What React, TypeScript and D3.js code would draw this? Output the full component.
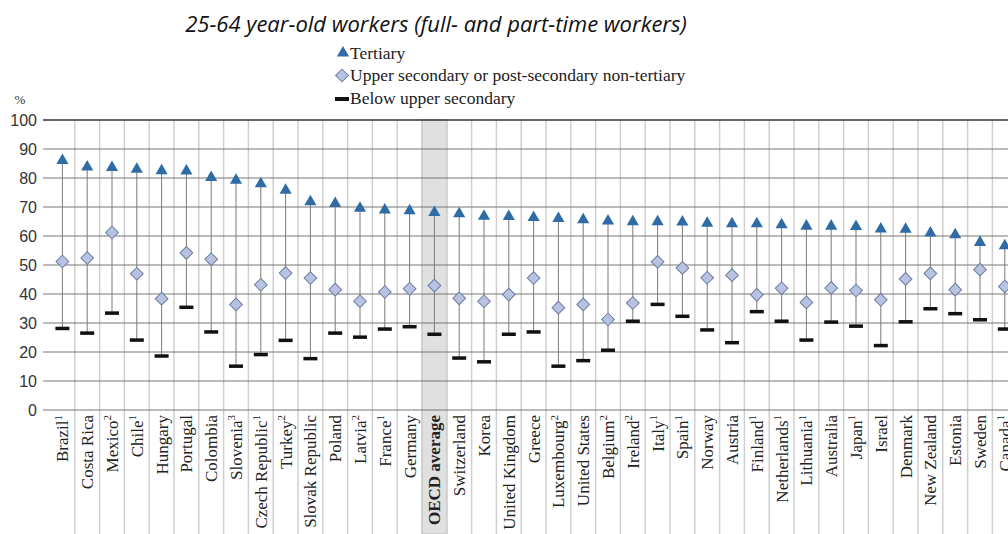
import * as d3 from 'd3';

// Countries in chart order (sorted by tertiary rate)
const countries = [
  'Brazil', 'Costa Rica', 'Mexico', 'Chile', 'Hungary', 'Portugal', 'Colombia',
  'Slovenia', 'Czech Republic', 'Turkey', 'Slovak Republic', 'Poland', 'Latvia',
  'France', 'Germany', 'OECD average', 'Switzerland', 'Korea', 'United Kingdom',
  'Greece', 'Luxembourg', 'United States', 'Belgium', 'Ireland', 'Italy', 'Spain',
  'Norway', 'Austria', 'Finland', 'Netherlands', 'Lithuania', 'Australia', 'Japan',
  'Israel', 'Denmark', 'New Zealand', 'Estonia', 'Sweden', 'Canada',
];

// Footnote markers shown as superscripts
const notes = [
  '1', '', '2', '1', '', '', '', '3', '1', '2', '', '', '2', '1', '', '', '', '',
  '', '', '2', '', '2', '2', '1', '1', '', '', '1', '1', '1', '', '1', '', '', '',
  '', '', '1',
];

const tertiary = [
  86, 83.8, 83.6, 83, 82.5, 82.4, 80.2, 79.2, 78, 75.8, 71.8, 71.2, 69.6, 69,
  68.7, 68.1, 67.7, 66.8, 66.7, 66.4, 66, 65.6, 65.2, 64.9, 64.9, 64.8, 64.4,
  64.2, 64.2, 63.9, 63.4, 63.4, 63.3, 62.4, 62.3, 61, 60.4, 57.8, 56.6,
];

const upperSecondary = [
  51.2, 52.4, 61.2, 47, 38.4, 54.2, 52, 36.4, 43.2, 47.2, 45.5, 41.5, 37.5, 40.7,
  41.8, 42.9, 38.5, 37.5, 39.8, 45.5, 35.3, 36.4, 31.2, 36.9, 51.1, 49, 45.6,
  46.5, 39.7, 42, 37.1, 42.1, 41.2, 38, 45.2, 47.1, 41.5, 48.4, 42.6,
];

const belowUpper = [
  28.2, 26.6, 33.5, 24.2, 18.7, 35.5, 27, 15.2, 19.2, 24.1, 17.8, 26.6, 25.2,
  28, 28.8, 26.2, 18, 16.7, 26.2, 27, 15.2, 17.1, 20.7, 30.7, 36.5, 32.4, 27.7,
  23.3, 34, 30.7, 24.2, 30.4, 29, 22.3, 30.5, 35, 33.3, 31.2, 28,
];

const yTicks = [0, 10, 20, 30, 40, 50, 60, 70, 80, 90, 100];

const W = 1008;
const H = 534;
const serif = '"Liberation Serif", "DejaVu Serif", serif';
const sans = '"Liberation Sans", Arial, sans-serif';
const blue = '#2f6ca6';

export default function App() {
  const x = d3
    .scaleBand<string>()
    .domain(countries)
    .range([50, 50 + countries.length * 24.8])
    .padding(0);
  const y = d3.scaleLinear().domain([0, 100]).range([410, 120]);
  const bw = x.bandwidth();
  const tri = d3.symbol().type(d3.symbolTriangle).size(64)();

  return (
    <svg
      width={W}
      height={H}
      style={{ position: 'absolute', left: 0, top: 0, background: '#fff' }}
    >
      {/* title */}
      <text
        x={436}
        y={32}
        textAnchor="middle"
        fontFamily='"Open Sans", sans-serif'
        fontStyle="italic"
        fontSize={22}
        fill="#111"
      >
        25-64 year-old workers (full- and part-time workers)
      </text>

      {/* legend */}
      <g fontFamily={serif} fontSize={17.5} fill="#222">
        <path d={tri} transform="translate(343,53)" fill={blue} />
        <text x={350} y={59}>Tertiary</text>
        <rect
          x={337.5}
          y={71}
          width={9}
          height={9}
          transform="rotate(45,342,75.5)"
          fill="#b8c3e3"
          stroke="#6e7ba0"
        />
        <text x={350} y={81}>Upper secondary or post-secondary non-tertiary</text>
        <rect x={335} y={97} width={14} height={4} fill="#111" />
        <text x={350} y={104}>Below upper secondary</text>
      </g>

      {/* OECD band */}
      <rect
        x={x('OECD average')}
        y={120}
        width={bw}
        height={H - 120}
        fill="#e0e0e0"
        stroke="#c8c8c8"
        strokeWidth={1.5}
      />

      {/* vertical grid at band boundaries */}
      {countries.slice(1).map((c) => (
        <line
          key={c}
          x1={x(c)}
          x2={x(c)}
          y1={120}
          y2={H}
          stroke="#cfcfcf"
          strokeWidth={1.5}
        />
      ))}

      {/* horizontal grid and y labels */}
      {yTicks.map((t) => (
        <g key={t}>
          <line
            x1={43}
            x2={W}
            y1={y(t)}
            y2={y(t)}
            stroke={t === 100 ? '#333' : '#777'}
            strokeWidth={t === 100 ? 1.5 : 1}
          />
          <text
            x={37}
            y={y(t)}
            dy="0.36em"
            textAnchor="end"
            fontFamily={sans}
            fontSize={16}
            fill="#333"
          >
            {t}
          </text>
        </g>
      ))}
      <text x={20} y={104} textAnchor="middle" fontFamily={serif} fontSize={13} fill="#333">
        %
      </text>

      {/* drop lines and markers */}
      {countries.map((c, i) => {
        const cx = (x(c) ?? 0) + bw / 2;
        return (
          <g key={c}>
            <line
              x1={cx}
              x2={cx}
              y1={y(tertiary[i])}
              y2={y(belowUpper[i])}
              stroke="#7a7a7a"
              strokeWidth={1}
            />
            <rect
              x={cx - 7}
              y={y(belowUpper[i]) - 1.5}
              width={14}
              height={3.5}
              fill="#111"
            />
            <rect
              x={cx - 4.5}
              y={y(upperSecondary[i]) - 4.5}
              width={9}
              height={9}
              transform={`rotate(45,${cx},${y(upperSecondary[i])})`}
              fill="#b8c3e3"
              stroke="#6e7ba0"
              strokeWidth={1}
            />
            <path
              d={tri}
              transform={`translate(${cx},${y(tertiary[i])})`}
              fill={blue}
            />
          </g>
        );
      })}

      {/* x labels */}
      {countries.map((c, i) => {
        const cx = (x(c) ?? 0) + bw / 2;
        return (
          <text
            key={c}
            transform={`translate(${cx},415) rotate(-90)`}
            dy="0.35em"
            textAnchor="end"
            fontFamily={serif}
            fontSize={17}
            fontWeight={c === 'OECD average' ? 'bold' : 'normal'}
            fill="#222"
          >
            {c}
            {notes[i] && (
              <tspan fontSize={11} dy="-0.6em">
                {notes[i]}
              </tspan>
            )}
          </text>
        );
      })}
    </svg>
  );
}
